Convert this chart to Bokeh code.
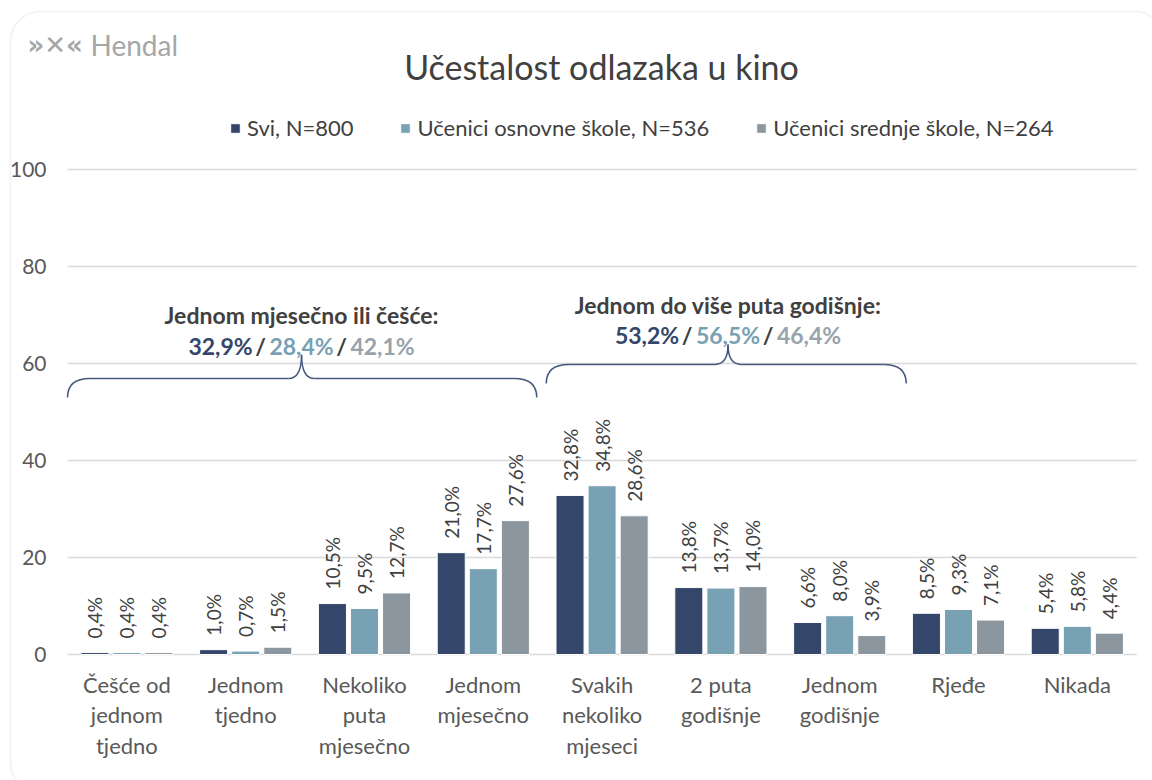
import math
from bokeh.plotting import figure
from bokeh.models import (ColumnDataSource, FixedTicker, Label, Legend, LegendItem,
                          BoxAnnotation, Range1d)
from bokeh.core.properties import value
from bokeh.transform import dodge
from bokeh.embed import file_html
from bokeh.resources import INLINE

# ---------------- data ----------------
categories = ["Češće od\njednom\ntjedno", "Jednom\ntjedno", "Nekoliko\nputa\nmjesečno",
              "Jednom\nmjesečno", "Svakih\nnekoliko\nmjeseci", "2 puta\ngodišnje",
              "Jednom\ngodišnje", "Rjeđe", "Nikada"]
series_names = ["Svi, N=800", "Učenici osnovne škole, N=536", "Učenici srednje škole, N=264"]
svi = [0.4, 1.0, 10.5, 21.0, 32.8, 13.8, 6.6, 8.5, 5.4]
osnovne = [0.4, 0.7, 9.5, 17.7, 34.8, 13.7, 8.0, 9.3, 5.8]
srednje = [0.4, 1.5, 12.7, 27.6, 28.6, 14.0, 3.9, 7.1, 4.4]
y_ticks = [0, 20, 40, 60, 80, 100]

group_titles = ["Jednom mjesečno ili češće:", "Jednom do više puta godišnje:"]
group_svi = [32.9, 53.2]
group_osnovne = [28.4, 56.5]
group_srednje = [42.1, 46.4]

title_text = "Učestalost odlazaka u kino"
logo_text = "Hendal"

# ---------------- layout / style ----------------
W, H = 1152, 780
X0_PX, PX_PER_CAT = 67, 118.8      # pixel of x=-0.5, pixels per category
Y0_PX, PX_PER_UNIT = 654, 4.85     # pixel of y=0, pixels per unit
colors = ["#34466A", "#78A1B4", "#8B969E"]
FONT = "Lato"

# brace geometry (x in category units, y in axis units)
brace_x0 = [-0.5, 3.53]
brace_x1 = [3.45, 6.56]
brace_xm = [1.47, 5.06]
brace_y_end = [53.0, 55.9]
brace_y_flat = [56.9, 59.8]
brace_y_tip = [61.8, 63.9]
group_text_y1 = [69.9, 72.0]
group_text_y2 = [63.7, 65.8]


def fmt(v):
    return f"{v:.1f}".replace(".", ",") + "%"


x_start = -0.5 - X0_PX / PX_PER_CAT
x_end = -0.5 + (W - X0_PX) / PX_PER_CAT
y_start = -(H - Y0_PX) / PX_PER_UNIT
y_end = Y0_PX / PX_PER_UNIT

p = figure(width=W, height=H, x_range=Range1d(x_start, x_end), y_range=Range1d(y_start, y_end),
           output_backend="svg", toolbar_location=None,
           min_border_left=0, min_border_right=0, min_border_top=0, min_border_bottom=0)
p.outline_line_color = None
p.background_fill_color = "white"
p.border_fill_color = "white"
p.grid.visible = False

p.yaxis.fixed_location = -0.5
p.yaxis.ticker = FixedTicker(ticks=y_ticks)
p.yaxis.axis_line_color = None
p.yaxis.major_tick_line_color = None
p.yaxis.minor_tick_line_color = None
p.yaxis.major_label_standoff = 15
p.yaxis.major_label_text_font = FONT
p.yaxis.major_label_text_font_size = "21px"
p.yaxis.major_label_text_color = "#595959"

p.xaxis.fixed_location = 0
p.xaxis.ticker = FixedTicker(ticks=list(range(len(categories))))
p.xaxis.major_label_overrides = {i: c for i, c in enumerate(categories)}
p.xaxis.axis_line_color = None
p.xaxis.major_tick_line_color = None
p.xaxis.minor_tick_line_color = None
p.xaxis.major_label_standoff = 10
p.xaxis.major_label_text_font = FONT
p.xaxis.major_label_text_font_size = "22px"
p.xaxis.major_label_text_color = "#595959"
p.xaxis.major_label_text_line_height = 1.14

# gridlines (from the y ticks), spanning the category extent
p.segment(x0=-0.5, x1=len(categories) - 0.5, y0=y_ticks, y1=y_ticks,
          line_color="#D9D9D9", line_width=1.5)

src = ColumnDataSource(dict(
    x=list(range(len(categories))),
    s0=svi, s1=osnovne, s2=srednje,
    l0=[fmt(v) for v in svi], l1=[fmt(v) for v in osnovne], l2=[fmt(v) for v in srednje],
))

offsets = [-0.27, 0.0, 0.27]
renderers = []
for i in range(3):
    r = p.vbar(x=dodge("x", offsets[i], range=p.x_range), top=f"s{i}", width=0.236,
               source=src, fill_color=colors[i], line_color="white", line_width=1)
    renderers.append(r)
    p.text(x=dodge("x", offsets[i], range=p.x_range), y=f"s{i}", text=f"l{i}",
           source=src, angle=math.pi / 2, text_align="left", text_baseline="middle",
           y_offset=-14, text_font=value(FONT), text_font_size="19px", text_color="#404040")

# braces
for k in range(len(group_titles)):
    x0, x1, xm = brace_x0[k], brace_x1[k], brace_xm[k]
    ye, yf, yt = brace_y_end[k], brace_y_flat[k], brace_y_tip[k]
    re_, rt = 0.19, 0.11
    qsrc = ColumnDataSource(dict(
        x0=[x0, xm - rt, xm, x1 - re_], y0=[ye, yf, yt, yf],
        x1=[x0 + re_, xm, xm + rt, x1], y1=[yf, yt, yf, ye],
        cx=[x0, xm, xm, x1], cy=[yf, yf, yf, yf]))
    p.quadratic(x0="x0", y0="y0", x1="x1", y1="y1", cx="cx", cy="cy", source=qsrc,
                line_color="#44577C", line_width=1.5)
    p.segment(x0=[x0 + re_, xm + rt], y0=[yf, yf], x1=[xm - rt, x1 - re_], y1=[yf, yf],
              line_color="#44577C", line_width=1.5)

# group annotation texts
gsrc = ColumnDataSource(dict(x=brace_xm, y=group_text_y1, t=group_titles))
p.text(x="x", y="y", text="t", source=gsrc, text_align="center", text_baseline="middle",
       text_font=value(FONT), text_font_size="23px", text_font_style="bold",
       text_color="#404040")

px, py, pt, pc, po = [], [], [], [], []
piece_offsets = [-81, -41, 0, 40, 81]
for k in range(len(group_titles)):
    vals = [fmt(group_svi[k]), "/", fmt(group_osnovne[k]), "/", fmt(group_srednje[k])]
    cols = [colors[0], "#404040", colors[1], "#404040", "#98A3AB"]
    for j in range(5):
        px.append(brace_xm[k]); py.append(group_text_y2[k]); pt.append(vals[j])
        pc.append(cols[j]); po.append(piece_offsets[j])
psrc = ColumnDataSource(dict(x=px, y=py, t=pt, c=pc, o=po))
p.text(x="x", y="y", text="t", source=psrc, x_offset="o", text_color="c",
       text_align="center", text_baseline="middle", text_font=value(FONT),
       text_font_size="23px", text_font_style="bold")

# legend (screen position relative to the frame's bottom-left = canvas bottom-left)
legend = Legend(items=[LegendItem(label=series_names[i], renderers=[renderers[i]]) for i in range(3)],
                orientation="horizontal", location=(229, H - 141), glyph_width=12, glyph_height=12,
                label_standoff=6, spacing=46, padding=0, margin=0, border_line_color=None,
                background_fill_alpha=0, label_text_font=FONT, label_text_font_size="22px",
                label_text_color="#404040", label_height=22)
p.add_layout(legend)

# title and logo
p.add_layout(Label(x=601, y=H - 66, x_units="screen", y_units="screen", text=title_text,
                   text_align="center", text_baseline="middle", text_font=FONT,
                   text_font_size="34px", text_color="#404040"))
p.add_layout(Label(x=90, y=H - 44, x_units="screen", y_units="screen", text=logo_text,
                   text_align="left", text_baseline="middle", text_font=FONT,
                   text_font_size="28px", text_color="#A6A6A6"))
p.add_layout(Label(x=27, y=H - 44, x_units="screen", y_units="screen", text="»✕«",
                   text_align="left", text_baseline="middle", text_font="DejaVu Sans",
                   text_font_size="26px", text_font_style="bold", text_color="#A6A6A6"))

# outer rounded frame
box_kw = dict(left=10, right=W + 12, top=H - 11, bottom=-12,
              left_units="screen", right_units="screen", top_units="screen",
              bottom_units="screen", fill_alpha=0, line_color="#D9D9D9", line_width=2)
try:
    box = BoxAnnotation(border_radius=30, **box_kw)
except Exception:
    box = BoxAnnotation(**box_kw)
p.add_layout(box)

open("out.html", "w").write(file_html(p, INLINE))
